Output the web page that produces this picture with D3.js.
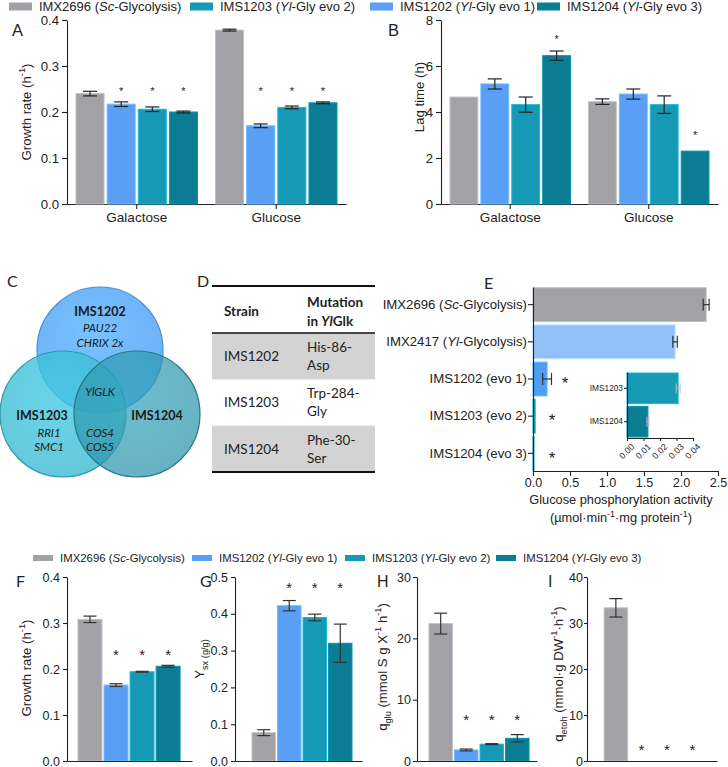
<!DOCTYPE html>
<html><head><meta charset="utf-8">
<script src="https://cdn.jsdelivr.net/npm/d3@7"></script>
<style>body{margin:0;background:#fff}svg{display:block}</style>
</head><body><svg id="c" width="728" height="767"></svg>
<script>
// ---------- DATA ----------
const seriesNames = ["IMX2696","IMS1202","IMS1203","IMS1204"];
const seriesColors = ["#a2a1a6","#589ff5","#1699b4","#0a7c93"];
const groupsAB = ["Galactose","Glucose"];
const growthGal = [0.240,0.217,0.206,0.200], growthGalErr = [0.005,0.005,0.005,0.002];
const growthGlu = [0.378,0.170,0.210,0.220], growthGluErr = [0.002,0.004,0.003,0.002];
const starsGrowthGal = [null,0.252,0.252,0.252], starsGrowthGlu = [null,0.252,0.252,0.252];
const lagGal = [4.65,5.22,4.32,6.45], lagGalErr = [0,0.22,0.33,0.20];
const lagGlu = [4.45,4.78,4.32,2.30], lagGluErr = [0.12,0.22,0.38,0];
const starsLagGal = [null,null,null,7.3], starsLagGlu = [null,null,null,3.1];
const ticksA = [0,0.1,0.2,0.3,0.4], ticksB = [0,2,4,6,8];

const legendTop = [
  [{t:"IMX2696 ("},{t:"Sc",i:1},{t:"-Glycolysis)"}],
  [{t:"IMS1203 ("},{t:"Yl",i:1},{t:"-Gly evo 2)"}],
  [{t:"IMS1202 ("},{t:"Yl",i:1},{t:"-Gly evo 1)"}],
  [{t:"IMS1204 ("},{t:"Yl",i:1},{t:"-Gly evo 3)"}]];
const legendTopColors = ["#a2a1a6","#1699b4","#589ff5","#0a7c93"];
const legendBottom = [
  [{t:"IMX2696 ("},{t:"Sc",i:1},{t:"-Glycolysis)"}],
  [{t:"IMS1202 ("},{t:"Yl",i:1},{t:"-Gly evo 1)"}],
  [{t:"IMS1203 ("},{t:"Yl",i:1},{t:"-Gly evo 2)"}],
  [{t:"IMS1204 ("},{t:"Yl",i:1},{t:"-Gly evo 3)"}]];

const vennCircles = ["IMS1202","IMS1203","IMS1204"];
const vennColors = ["#6db1f6","#3dbad0","#2d95ab"];
const vennLabels = [
  {t:"IMS1202",b:1},{t:"PAU22"},{t:"CHRIX 2x"},{t:"YlGLK"},
  {t:"IMS1203",b:1},{t:"RRI1"},{t:"SMC1"},{t:"IMS1204",b:1},{t:"COS4"},{t:"COS5"}];

const tableHeader = ["Strain","Mutation","in YlGlk"];
const tableStrains = ["IMS1202","IMS1203","IMS1204"];
const tableMut1 = ["His-86-","Trp-284-","Phe-30-"];
const tableMut2 = ["Asp","Gly","Ser"];

const eStrains = ["IMX2696","IMX2417","IMS1202","IMS1203","IMS1204"];
const eLabels = [
  [{t:"IMX2696 ("},{t:"Sc",i:1},{t:"-Glycolysis)"}],
  [{t:"IMX2417 ("},{t:"Yl",i:1},{t:"-Glycolysis)"}],
  [{t:"IMS1202 (evo 1)"}],[{t:"IMS1203 (evo 2)"}],[{t:"IMS1204 (evo 3)"}]];
const eValues = [2.34,1.92,0.19,0.03,0.013];
const eErr = [0.04,0.03,0.06,0.002,0.001];
const eStars = [false,false,true,true,true];
const eColors = ["#a2a1a6","#93c0f6","#4f9df3","#1699b4","#0a7c93"];
const eTicks = [0,0.5,1.0,1.5,2.0,2.5];
const insetStrains = ["IMS1203","IMS1204"];
const insetValues = [0.031,0.0127];
const insetErr = [0.0012,0.0006];
const insetTicks = [0,0.01,0.02,0.03,0.04];

const growthF = [0.308,0.165,0.194,0.206], growthFErr = [0.007,0.003,0.001,0.002];
const ysxG = [0.077,0.422,0.390,0.320], ysxGErr = [0.008,0.014,0.009,0.052];
const qgluH = [22.4,1.8,2.75,3.7], qgluHErr = [1.7,0.15,0.08,0.6];
const qetohI = [33.3,0,0,0], qetohIErr = [2.0,0,0,0];
const starsF = [null,0.24,0.24,0.24], starsG = [null,0.48,0.48,0.48];
const starsH = [null,7.3,7.3,7.3], starsI = [null,3.2,3.2,3.2];

// ---------- HELPERS ----------
const svg = d3.select("#c");
const ARIAL = "'Liberation Sans', Arial, sans-serif";
const CAL = "Lato, 'Open Sans', sans-serif";
const INK = "#222";

function rich(sel, parts, fs) {
  let cur = 0;
  parts.forEach(p => {
    const ts = sel.append("tspan").text(p.t);
    if (p.i) ts.attr("font-style","italic");
    if (p.b) ts.attr("font-weight","bold");
    const target = p.sup ? -0.42*fs : p.sub ? 0.28*fs : 0;
    if (p.sup || p.sub) ts.attr("font-size", fs*0.7);
    if (target !== cur) { ts.attr("dy", target - cur); cur = target; }
  });
}
function styleAxis(g, fs, family) {
  g.selectAll("path.domain").attr("stroke", INK).attr("stroke-width",1.1);
  g.selectAll(".tick line").attr("stroke", INK).attr("stroke-width",1.1);
  g.selectAll(".tick text").attr("font-family", family||ARIAL).attr("font-size", fs).attr("fill", INK);
  g.attr("font-family", family||ARIAL);
}
function star(g, x, yc, fs) {
  g.append("text").attr("x",x).attr("y", yc + 0.6*fs).attr("text-anchor","middle")
   .attr("font-family",ARIAL).attr("font-size",fs).attr("fill",INK).text("*");
}
function label(x, y, t, fs, family, anchor) {
  return svg.append("text").attr("x",x).attr("y",y).attr("font-family",family||ARIAL)
   .attr("font-size",fs).attr("fill",INK).attr("text-anchor",anchor||"start").text(t);
}
function vErr(g, cx, y, v, e, capW, color) {
  if (!e) return;
  const top = y(v+e), bot = y(v-e);
  g.append("line").attr("x1",cx).attr("x2",cx).attr("y1",top).attr("y2",bot).attr("stroke",color).attr("stroke-width",1.2);
  [top,bot].forEach(yy => g.append("line").attr("x1",cx-capW/2).attr("x2",cx+capW/2).attr("y1",yy).attr("y2",yy).attr("stroke",color).attr("stroke-width",1.2));
}
function bar(g, x, yTop, w, h, color) {
  g.append("rect").attr("x",x).attr("y",yTop).attr("width",w).attr("height",h).attr("fill",color)
   .attr("stroke", h>0 ? d3.color(color).brighter(0.5) : "none").attr("stroke-width",1);
}
function rotLabel(x, y, parts, fs) {
  const t = svg.append("text").attr("transform",`translate(${x},${y}) rotate(-90)`).attr("text-anchor","middle")
    .attr("font-family",ARIAL).attr("font-size",fs).attr("fill",INK);
  rich(t, parts, fs);
}

// ---------- LEGENDS ----------
const topLegX = [9,190,370,537];
legendTop.forEach((parts,i) => {
  svg.append("rect").attr("x",topLegX[i]).attr("y",2.5).attr("width",23).attr("height",8).attr("fill",legendTopColors[i]);
  const t = svg.append("text").attr("x",topLegX[i]+30).attr("y",11).attr("font-family",ARIAL).attr("font-size",13).attr("fill",INK);
  rich(t, parts, 13);
});
const botLegX = [33,192,345,496];
legendBottom.forEach((parts,i) => {
  svg.append("rect").attr("x",botLegX[i]).attr("y",555).attr("width",20).attr("height",6).attr("fill",seriesColors[i]);
  const t = svg.append("text").attr("x",botLegX[i]+27).attr("y",562).attr("font-family",ARIAL).attr("font-size",11.4).attr("fill",INK);
  rich(t, parts, 11.4);
});

// ---------- PANELS A & B ----------
function groupedPanel(cfg) {
  const g = svg.append("g");
  const y = d3.scaleLinear().domain(cfg.yDomain).range([204,20]);
  const x0 = d3.scaleBand().domain(groupsAB).range(cfg.xRange);
  const x1 = d3.scaleBand().domain(d3.range(4)).range([9, x0.bandwidth()-9]).paddingInner(0.1);
  g.append("g").attr("transform",`translate(${cfg.xRange[0]},0)`)
    .call(d3.axisLeft(y).tickValues(cfg.ticks).tickFormat(cfg.fmt).tickSize(5).tickSizeOuter(0).tickPadding(3))
    .call(a => styleAxis(a, 13.2));
  g.append("g").attr("transform",`translate(0,204)`)
    .call(d3.axisBottom(x0).tickSize(5).tickSizeOuter(0).tickPadding(3))
    .call(a => styleAxis(a, 13.5));
  cfg.groups.forEach((grp, gi) => {
    const gx = x0(groupsAB[gi]);
    grp.v.forEach((v,i) => {
      const bx = gx + x1(i);
      bar(g, bx, y(v), x1.bandwidth(), y(0)-y(v), seriesColors[i]);
      vErr(g, bx + x1.bandwidth()/2, y, v, grp.e[i], 14, INK);
      if (grp.s[i] != null) star(g, bx + x1.bandwidth()/2, y(grp.s[i]), 11);
    });
  });
}
groupedPanel({xRange:[67,346], yDomain:[0,0.4], ticks:ticksA, fmt:d3.format(".1f"),
  groups:[{v:growthGal,e:growthGalErr,s:starsGrowthGal},{v:growthGlu,e:growthGluErr,s:starsGrowthGlu}]});
groupedPanel({xRange:[441,718], yDomain:[0,8], ticks:ticksB, fmt:d3.format("d"),
  groups:[{v:lagGal,e:lagGalErr,s:starsLagGal},{v:lagGlu,e:lagGluErr,s:starsLagGlu}]});
label(12,36,"A",16.5);
label(388,36,"B",16.5);
rotLabel(31,112,[{t:"Growth rate (h"},{t:"-1",sup:1},{t:")"}],13.2);
rotLabel(424,97,[{t:"Lag time (h)"}],13.2);

// ---------- PANEL C (Venn) ----------
label(7,287,"C",16,CAL);
const vennPos = {IMS1202:[100,350], IMS1203:[63,414], IMS1204:[137,414]};
const vennOp = [1,0.8,0.72];
const vennStroke = ["#4b8fd6","#2a98ad","#23788b"];
const defs = svg.append("defs");
vennCircles.forEach((k,i) => {
  const gr = defs.append("radialGradient").attr("id","vg"+i).attr("cx","45%").attr("cy","40%").attr("r","60%");
  gr.append("stop").attr("offset","0%").attr("stop-color", d3.color(vennColors[i]).brighter(0.25));
  gr.append("stop").attr("offset","100%").attr("stop-color", vennColors[i]);
  svg.append("circle").attr("cx",vennPos[k][0]).attr("cy",vennPos[k][1]).attr("r",63)
    .attr("fill","url(#vg"+i+")").attr("fill-opacity",vennOp[i]).attr("stroke",vennStroke[i]).attr("stroke-width",1.2);
});
const vennXY = [[100,312],[100,328],[100,343],[100,392],[42,416],[49,433],[49,447],[157,416],[100,433],[100,447]];
vennLabels.forEach((l,i) => {
  svg.append("text").attr("x",vennXY[i][0]).attr("y",vennXY[i][1]).attr("dy","0.35em")
    .attr("text-anchor","middle").attr("font-family",CAL).attr("fill","#1a1a1a")
    .attr("font-size", l.b ? 12.5 : 11.5).attr("font-weight", l.b ? "bold" : "normal")
    .attr("font-style", l.b ? "normal" : "italic").text(l.t);
});

// ---------- PANEL D (table) ----------
label(197,287,"D",16,CAL);
const rowY = d3.scaleBand().domain(tableStrains).range([333,472]);
tableStrains.forEach((s,i) => {
  if (i !== 1) svg.append("rect").attr("x",212).attr("y",rowY(s)).attr("width",163).attr("height",rowY.bandwidth()).attr("fill","#d3d3d3");
  const cy = rowY(s) + rowY.bandwidth()/2;
  svg.append("text").attr("x",224).attr("y",cy).attr("dy","0.35em").attr("font-family",CAL).attr("font-size",13.5).attr("fill","#222").text(s);
  svg.append("text").attr("x",307).attr("y",cy-9).attr("dy","0.35em").attr("font-family",CAL).attr("font-size",13.5).attr("fill","#222").text(tableMut1[i]);
  svg.append("text").attr("x",307).attr("y",cy+9).attr("dy","0.35em").attr("font-family",CAL).attr("font-size",13.5).attr("fill","#222").text(tableMut2[i]);
});
[[286,2],[333,1.6],[472,2]].forEach(([yy,w]) => svg.append("line").attr("x1",212).attr("x2",375).attr("y1",yy).attr("y2",yy).attr("stroke","#111").attr("stroke-width",w));
svg.append("text").attr("x",224).attr("y",311).attr("dy","0.35em").attr("font-family",CAL).attr("font-size",13.5).attr("font-weight","bold").attr("fill","#222").text(tableHeader[0]);
svg.append("text").attr("x",307).attr("y",302).attr("dy","0.35em").attr("font-family",CAL).attr("font-size",13.5).attr("font-weight","bold").attr("fill","#222").text(tableHeader[1]);
{
  const t = svg.append("text").attr("x",307).attr("y",321).attr("dy","0.35em").attr("font-family",CAL).attr("font-size",13.5).attr("font-weight","bold").attr("fill","#222");
  rich(t, [{t:"in "},{t:"Yl",i:1},{t:"Glk"}], 13.5);
}

// ---------- PANEL E ----------
label(484,289,"E",16,CAL);
{
  const g = svg.append("g");
  const x = d3.scaleLinear().domain([0,2.5]).range([533,718]);
  const y = d3.scaleBand().domain(eStrains).range([287,471]).paddingInner(0.09).paddingOuter(0.02);
  eStrains.forEach((s,i) => {
    bar(g, x(0), y(s), x(eValues[i])-x(0), y.bandwidth(), eColors[i]);
    const cy = y(s)+y.bandwidth()/2;
    if (i < 3) {
      const l = x(eValues[i]-eErr[i]), r = x(eValues[i]+eErr[i]);
      g.append("line").attr("x1",l).attr("x2",r).attr("y1",cy).attr("y2",cy).attr("stroke","#333").attr("stroke-width",1.2);
      [l,r].forEach(xx => g.append("line").attr("x1",xx).attr("x2",xx).attr("y1",cy-6).attr("y2",cy+6).attr("stroke","#333").attr("stroke-width",1.2));
    }
    if (eStars[i]) star(g, i===2 ? 565 : 552, cy, 17);
  });
  g.append("g").attr("transform","translate(533,0)")
    .call(d3.axisLeft(y).tickSize(5).tickSizeOuter(0).tickPadding(1))
    .call(a => styleAxis(a, 13.2))
    .call(a => a.selectAll(".tick text").each(function(d,i){ const t = d3.select(this).text(""); rich(t, eLabels[i], 13.2); }));
  g.append("g").attr("transform","translate(0,471)")
    .call(d3.axisBottom(x).tickValues(eTicks).tickFormat(d3.format(".1f")).tickSize(5).tickSizeOuter(0).tickPadding(2))
    .call(a => styleAxis(a, 12.6));
  label(621,503.5,"Glucose phosphorylation activity",12.8,ARIAL,"middle");
  const t2 = svg.append("text").attr("x",621).attr("y",522).attr("text-anchor","middle").attr("font-family",ARIAL).attr("font-size",12.8).attr("fill",INK);
  rich(t2, [{t:"(µmol·min"},{t:"-1",sup:1},{t:"·mg protein"},{t:"-1",sup:1},{t:")"}], 12.8);

  // inset
  const xi = d3.scaleLinear().domain([0,0.04]).range([627,693]);
  const yi = d3.scaleBand().domain(insetStrains).range([372,438]).paddingInner(0.08).paddingOuter(0.03);
  insetStrains.forEach((s,i) => {
    bar(g, xi(0), yi(s), xi(insetValues[i])-xi(0), yi.bandwidth(), eColors[3+i]);
    const cy = yi(s)+yi.bandwidth()/2;
    const l = xi(insetValues[i]-insetErr[i]), r = xi(insetValues[i]+insetErr[i]);
    g.append("line").attr("x1",l).attr("x2",r).attr("y1",cy).attr("y2",cy).attr("stroke","#bbb").attr("stroke-width",1);
    [l,r].forEach(xx => g.append("line").attr("x1",xx).attr("x2",xx).attr("y1",cy-5).attr("y2",cy+5).attr("stroke","#bbb").attr("stroke-width",1));
  });
  g.append("g").attr("transform","translate(627,0)")
    .call(d3.axisLeft(yi).tickSize(3).tickSizeOuter(0).tickPadding(1))
    .call(a => styleAxis(a, 8.3));
  g.append("g").attr("transform","translate(0,438)")
    .call(d3.axisBottom(xi).tickValues(insetTicks).tickFormat(d3.format(".2f")).tickSize(3).tickSizeOuter(0).tickPadding(2))
    .call(a => styleAxis(a, 8.8))
    .call(a => a.selectAll(".tick text").attr("text-anchor","end").attr("dy","0.3em").attr("transform","translate(2,4) rotate(-45)"));
}

// ---------- PANELS F-I ----------
function simplePanel(cfg) {
  const g = svg.append("g");
  const y = d3.scaleLinear().domain(cfg.yDomain).range([761,577]);
  const x = d3.scaleBand().domain(seriesNames).range(cfg.xRange).paddingInner(0.08).paddingOuter(cfg.po).align(cfg.al);
  seriesNames.forEach((s,i) => {
    bar(g, x(s), y(cfg.v[i]), x.bandwidth(), y(0)-y(cfg.v[i]), seriesColors[i]);
    vErr(g, x(s)+x.bandwidth()/2, y, cfg.v[i], cfg.e[i], 13, "#333");
    if (cfg.s[i] != null) star(g, x(s)+x.bandwidth()/2, y(cfg.s[i]), 15);
  });
  g.append("g").attr("transform",`translate(${cfg.xRange[0]},0)`)
    .call(d3.axisLeft(y).tickValues(cfg.ticks).tickFormat(cfg.fmt).tickSize(cfg.ts).tickSizeOuter(0).tickPadding(cfg.tp))
    .call(a => styleAxis(a, 12.5));
  g.append("g").attr("transform","translate(0,761)")
    .call(d3.axisBottom(x).tickSize(0).tickSizeOuter(0).tickFormat(""))
    .call(a => styleAxis(a, 12.5));
}
simplePanel({xRange:[67,192], po:0.44, al:0.48, ts:4, tp:3, yDomain:[0,0.4], ticks:[0,0.1,0.2,0.3,0.4], fmt:d3.format(".1f"), v:growthF, e:growthFErr, s:starsF});
simplePanel({xRange:[235,362], po:0.53, al:0.63, ts:4, tp:3, yDomain:[0,0.5], ticks:[0,0.1,0.2,0.3,0.4,0.5], fmt:d3.format(".1f"), v:ysxG, e:ysxGErr, s:starsG});
simplePanel({xRange:[417,537], po:0.39, al:0.6, ts:4, tp:2, yDomain:[0,30], ticks:[0,10,20,30], fmt:d3.format("d"), v:qgluH, e:qgluHErr, s:starsH});
simplePanel({xRange:[587,717], po:0.59, al:0.57, ts:3, tp:1, yDomain:[0,40], ticks:[0,10,20,30,40], fmt:d3.format("d"), v:qetohI, e:qetohIErr, s:starsI});
label(16,587,"F",16,CAL);
label(200,587,"G",16,CAL);
label(377,587,"H",16);
label(548,587,"I",16);
rotLabel(31,668,[{t:"Growth rate (h"},{t:"-1",sup:1},{t:")"}],13.2);
rotLabel(204,659,[{t:"Y"},{t:"sx",sub:1},{t:" (g/g)",sub:1}],13.2);
rotLabel(387,667,[{t:"q"},{t:"glu",sub:1},{t:" (mmol S g X"},{t:"-1",sup:1},{t:" h"},{t:"-1",sup:1},{t:")"}],13.2);
rotLabel(563,674,[{t:"q"},{t:"etoh",sub:1},{t:" (mmol·g DW"},{t:"-1",sup:1},{t:"·h"},{t:"-1",sup:1},{t:")"}],13.2);
</script></body></html>
